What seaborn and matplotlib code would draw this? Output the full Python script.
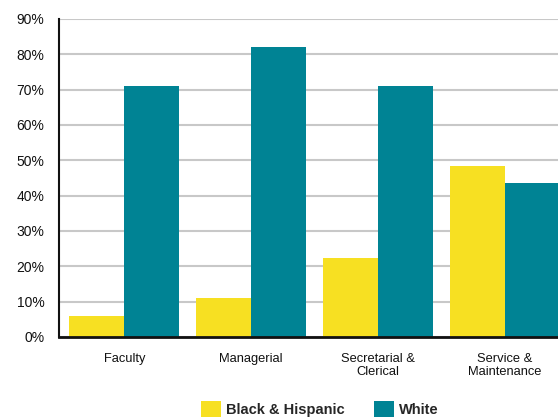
import matplotlib
matplotlib.use("Agg")
import matplotlib.pyplot as plt
from matplotlib.patches import Patch
from matplotlib.ticker import FuncFormatter
import seaborn as sns
import pandas as pd

categories = ["Faculty", "Managerial", "Secretarial &\nClerical", "Service &\nMaintenance"]
groups = ["Black & Hispanic", "White"]
black_hispanic = [6, 11, 22.5, 48.5]
white = [71, 82, 71, 43.5]
yticks = [0, 10, 20, 30, 40, 50, 60, 70, 80, 90]

colors = {"Black & Hispanic": "#F7E022", "White": "#008394"}

df = pd.DataFrame({
    "category": categories * 2,
    "group": [groups[0]] * 4 + [groups[1]] * 4,
    "share": black_hispanic + white,
})

sns.set_style("white")
plt.rcParams["font.family"] = ["Liberation Sans", "DejaVu Sans"]

fig = plt.figure(figsize=(5.58, 4.17), dpi=100)
ax = fig.add_axes([59 / 558, 1 - 337 / 417, 1 - 59 / 558, (337 - 19) / 417])

sns.barplot(data=df, x="category", y="share", hue="group", hue_order=groups,
            palette=colors, width=0.87, saturation=1, linewidth=0, ax=ax,
            legend=False, zorder=3)

ax.set_xlim(-0.515, 3.42)
ax.set_ylim(0, 90)
ax.set_yticks(yticks)
ax.yaxis.set_major_formatter(FuncFormatter(lambda v, _: f"{v:.0f}%"))
ax.grid(axis="y", color="#c8c8c8", linewidth=1.5, zorder=0)
ax.set_axisbelow(True)
ax.set_xlabel("")
ax.set_ylabel("")

for side in ["top", "right"]:
    ax.spines[side].set_visible(False)
ax.spines["left"].set_color("#111111")
ax.spines["left"].set_linewidth(1.5)
ax.spines["bottom"].set_color("#111111")
ax.spines["bottom"].set_linewidth(2)
ax.spines["bottom"].set_zorder(5)

ax.tick_params(axis="y", length=0, pad=10.5, labelsize=10, labelcolor="#111111")
ax.tick_params(axis="x", length=0, pad=11.5, labelsize=9.3, labelcolor="#111111")
for lbl in ax.get_xticklabels():
    lbl.set_linespacing(1.15)

handles = [Patch(facecolor=colors[g], edgecolor="none", label=g) for g in groups]
leg = fig.legend(handles=handles, loc="lower left", bbox_to_anchor=(201 / 558, 0),
                 ncol=2, frameon=False, prop={"weight": "bold", "size": 10.5},
                 handlelength=1.37, handleheight=1.23, handletextpad=0.34,
                 columnspacing=2.0, borderaxespad=0, borderpad=0)

fig.savefig("out.png", dpi=100)
